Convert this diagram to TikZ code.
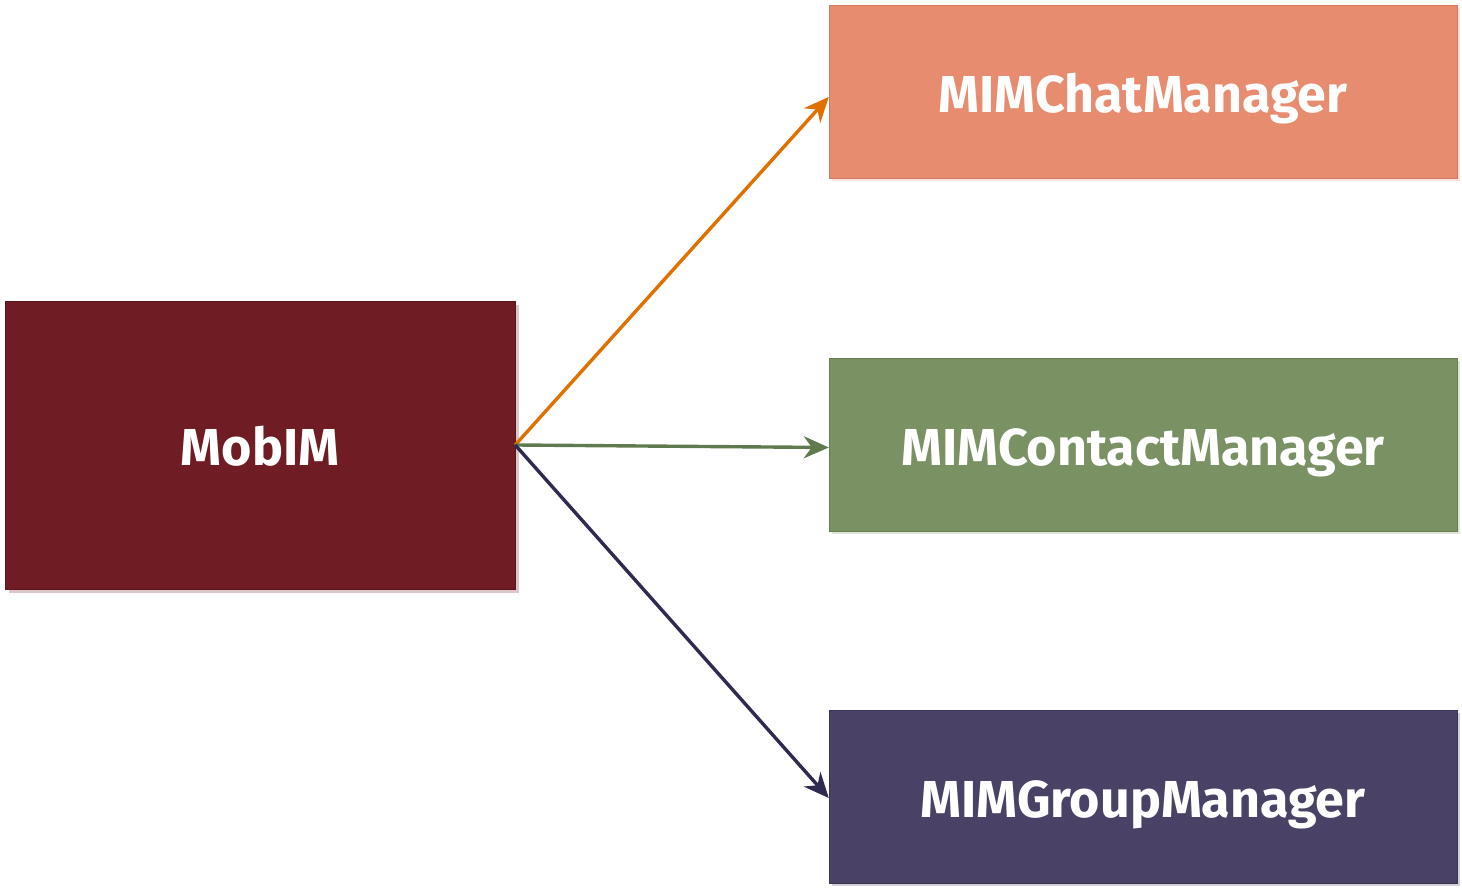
\documentclass[tikz,border=0pt]{standalone}
\usepackage{fontspec}
\setmainfont{Fira Sans}
\usetikzlibrary{shadows,arrows.meta}

\definecolor{mobimred}{HTML}{701C24}
\definecolor{chatfill}{HTML}{E88C6F}
\definecolor{chatdraw}{HTML}{CF7A60}
\definecolor{contactfill}{HTML}{7A9163}
\definecolor{contactdraw}{HTML}{66804F}
\definecolor{groupfill}{HTML}{4A4166}
\definecolor{groupdraw}{HTML}{3A3455}
\definecolor{chatline}{HTML}{E07000}
\definecolor{contactline}{HTML}{5F7A4F}
\definecolor{groupline}{HTML}{2E2A50}

\tikzstyle{mgrbox} = [ font={\fontsize{52}{58}\selectfont\bfseries}, shape=rectangle, minimum width=628pt, minimum height=173pt, text=white, inner sep=0pt, text height=42pt, text depth=0pt, align=center]
\tikzstyle{mgrarrow} = [ line width=3.4pt, -{Stealth[length=25pt,width=22pt,inset=8pt]}]

\begin{document}
\begin{tikzpicture}[x=1pt,y=1pt]
\useasboundingbox (0,0) rectangle (1462,888);

\node[mgrbox, minimum width=510pt, minimum height=288pt, fill=mobimred, draw=mobimred!80!black, drop shadow={shadow xshift=4pt, shadow yshift=-4pt, fill=mobimred!25, opacity=1}] (mobim) at (260,443) {MobIM};

\node[mgrbox, fill=chatfill, draw=chatdraw, drop shadow={shadow xshift=3pt, shadow yshift=-3pt, fill=chatfill!25, opacity=1}] (chat) at (1143,796) {MIMChatManager};
\node[mgrbox, fill=contactfill, draw=contactdraw, drop shadow={shadow xshift=3pt, shadow yshift=-3pt, fill=contactfill!25, opacity=1}] (contact) at (1143,443.5) {MIMContactManager};
\node[mgrbox, fill=groupfill, draw=groupdraw, drop shadow={shadow xshift=3pt, shadow yshift=-3pt, fill=groupfill!25, opacity=1}] (group) at (1143,91) {MIMGroupManager};

\draw[mgrarrow, chatline] (mobim.east) -- ([yshift=-5pt]chat.west);
\draw[mgrarrow, contactline] (mobim.east) -- ([yshift=-3pt]contact.west);
\draw[mgrarrow, groupline] (mobim.east) -- ([yshift=-1pt]group.west);
\end{tikzpicture}
\end{document}
